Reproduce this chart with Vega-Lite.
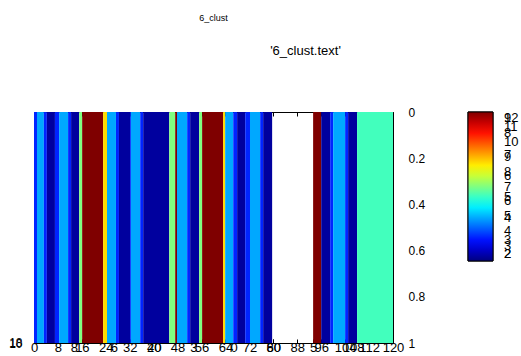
{
  "$schema": "https://vega.github.io/schema/vega-lite/v6.json",
  "width": 359,
  "height": 231,
  "autosize": "none",
  "padding": {"left": 34, "top": 112, "right": 128, "bottom": 13},
  "background": "white",
  "title": {"text": "6_clust", "fontSize": 9, "font": "Liberation Sans", "fontWeight": "normal", "color": "black", "anchor": "middle", "baseline": "alphabetic", "offset": 14},
  "data": {"values": [
    {"x0": 0, "x1": 1, "v": 3.6},
    {"x0": 1, "x1": 3.3, "v": 4.9},
    {"x0": 3.3, "x1": 4.3, "v": 3.6},
    {"x0": 4.3, "x1": 7, "v": 2.3},
    {"x0": 7, "x1": 8.4, "v": 3.6},
    {"x0": 8.4, "x1": 11.4, "v": 4.9},
    {"x0": 11.4, "x1": 12.4, "v": 3.6},
    {"x0": 12.4, "x1": 15.1, "v": 2.3},
    {"x0": 15.1, "x1": 16.1, "v": 7},
    {"x0": 16.1, "x1": 23.1, "v": 12},
    {"x0": 23.1, "x1": 24.4, "v": 8.6},
    {"x0": 24.4, "x1": 27.4, "v": 4.9},
    {"x0": 27.4, "x1": 28.4, "v": 3.6},
    {"x0": 28.4, "x1": 32.1, "v": 2.3},
    {"x0": 32.1, "x1": 32.4, "v": 3.6},
    {"x0": 32.4, "x1": 35.5, "v": 4.9},
    {"x0": 35.5, "x1": 36.5, "v": 3.6},
    {"x0": 36.5, "x1": 45.2, "v": 2.3},
    {"x0": 45.2, "x1": 47.2, "v": 7},
    {"x0": 47.2, "x1": 47.8, "v": 12},
    {"x0": 47.8, "x1": 51.2, "v": 4.9},
    {"x0": 51.2, "x1": 52.2, "v": 3.6},
    {"x0": 52.2, "x1": 55.2, "v": 2.3},
    {"x0": 55.2, "x1": 56.2, "v": 7},
    {"x0": 56.2, "x1": 63.2, "v": 12},
    {"x0": 63.2, "x1": 63.9, "v": 8.6},
    {"x0": 63.9, "x1": 66.6, "v": 4.9},
    {"x0": 66.6, "x1": 67.9, "v": 3.6},
    {"x0": 67.9, "x1": 70.6, "v": 2.3},
    {"x0": 70.6, "x1": 72.2, "v": 3.6},
    {"x0": 72.2, "x1": 75.6, "v": 4.9},
    {"x0": 75.6, "x1": 76.6, "v": 3.6},
    {"x0": 76.6, "x1": 79.6, "v": 2.3},
    {"x0": 93.3, "x1": 96, "v": 12},
    {"x0": 96, "x1": 99, "v": 2.3},
    {"x0": 99, "x1": 100, "v": 3.6},
    {"x0": 100, "x1": 104, "v": 4.9},
    {"x0": 104, "x1": 105, "v": 3.6},
    {"x0": 105, "x1": 108, "v": 2.3},
    {"x0": 108, "x1": 120, "v": 6.4}
  ]},
  "layer": [
    {
      "mark": {"type": "rect", "strokeWidth": 0},
      "encoding": {
        "x": {"field": "x0", "type": "quantitative", "scale": {"domain": [0, 120], "nice": false, "zero": false},
          "axis": {"orient": "bottom", "title": null, "values": [0, 8, 16, 24, 32, 40, 48, 56, 64, 72, 80, 88, 96, 104, 112, 120, 13.3, 26.7, 40.001, 53.3, 66.7, 80.001, 93.3, 106.7, 120.001],
            "labelExpr": "indexof([13.3, 26.7, 40.001, 53.3, 66.7, 80.001, 93.3, 106.7, 120.001], datum.value) >= 0 ? ['8', '6', '20', '3', '0', '60', '5', '108', '100'][indexof([13.3, 26.7, 40.001, 53.3, 66.7, 80.001, 93.3, 106.7, 120.001], datum.value)] : datum.label",
            "labelOverlap": false, "labelFlush": false, "tickSize": -4, "labelPadding": 2, "labelFontSize": 13}},
        "x2": {"field": "x1"},
        "y": {"datum": 0, "type": "quantitative", "scale": {"domain": [0, 1], "nice": false, "reverse": true},
          "axis": {"orient": "right", "title": null, "values": [0, 0.2, 0.4, 0.6, 0.8, 1], "format": "~g", "labelFlush": false, "tickSize": -4, "labelPadding": 19, "labelFontSize": 12}},
        "y2": {"datum": 1},
        "fill": {"field": "v", "type": "quantitative",
          "scale": {"domain": [2, 3.25, 5.75, 8.25, 10.75, 12], "range": ["#00007f", "#0000ff", "#00ffff", "#ffff00", "#ff0000", "#7f0000"], "interpolate": "rgb"},
          "legend": {"orient": "none", "legendX": 434, "legendY": 0, "direction": "vertical", "gradientLength": 149, "gradientThickness": 25, "title": null, "values": [2, 3, 4, 5, 6, 7, 8, 9, 10, 11, 12], "labelOverlap": false, "labelFontSize": 13, "labelOffset": 11, "labelBaseline": "middle", "gradientStrokeColor": "black", "gradientStrokeWidth": 1}},
        "stroke": {"field": "v", "type": "quantitative",
          "scale": {"domain": [2, 2.875, 4.625, 6.375, 8.125, 9], "range": ["#00007f", "#0000ff", "#00ffff", "#ffff00", "#ff0000", "#7f0000"], "interpolate": "rgb"},
          "legend": {"orient": "none", "legendX": 434, "legendY": 0, "direction": "vertical", "gradientLength": 149, "gradientThickness": 25, "title": null, "values": [2, 3, 4, 5, 6, 7, 8, 9], "labelOverlap": false, "labelFontSize": 13, "labelOffset": 11, "labelBaseline": "middle", "gradientStrokeColor": "black", "gradientStrokeWidth": 1}}
      }
    },
    {
      "mark": {"type": "rect", "opacity": 0},
      "encoding": {
        "x": {"field": "x0", "type": "quantitative",
          "axis": {"orient": "top", "title": "'6_clust.text'", "labels": false, "values": [0, 8, 16, 24, 32, 40, 48, 56, 64, 72, 80, 88, 96, 104, 112, 120], "tickSize": -4, "titleX": 271, "titleY": -58, "titleBaseline": "alphabetic", "titleAlign": "center", "titleFontSize": 13, "titleFontWeight": "normal"}},
        "x2": {"field": "x1"},
        "y": {"datum": 0, "type": "quantitative",
          "axis": {"orient": "left", "title": null, "values": [0.9999, 1], "labelExpr": "datum.value == 1 ? '10' : '18'", "labelOverlap": false, "labelFlush": false, "ticks": false, "labelPadding": 12, "labelFontSize": 12}},
        "y2": {"datum": 1}
      }
    }
  ],
  "resolve": {"axis": {"x": "independent", "y": "independent"}},
  "config": {
    "font": "Liberation Sans",
    "view": {"stroke": "black", "strokeWidth": 1},
    "axis": {"domain": false, "grid": false, "tickColor": "black", "labelColor": "black", "titleColor": "black", "labelFont": "Liberation Sans", "titleFont": "Liberation Sans"},
    "legend": {"labelColor": "black", "labelFont": "Liberation Sans"}
  }
}
